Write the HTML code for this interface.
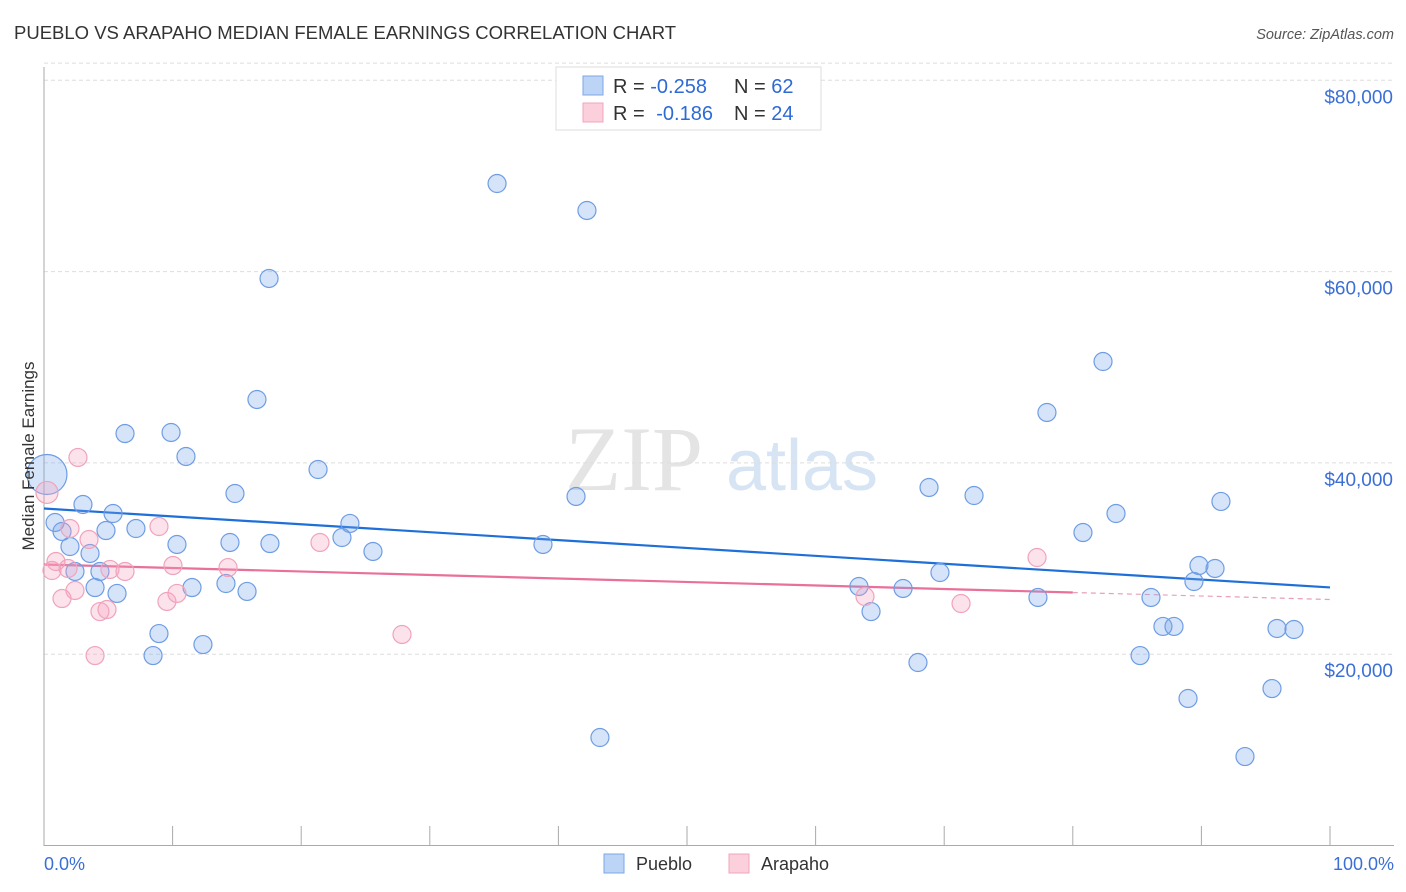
<!DOCTYPE html>
<html><head><meta charset="utf-8"><style>
body{margin:0;background:#fff;font-family:"Liberation Sans",sans-serif;}
svg{display:block}
</style></head><body>
<svg id="chart" width="1406" height="892" viewBox="0 0 1406 892" xmlns="http://www.w3.org/2000/svg">
<text x="14" y="39" font-size="18.5" fill="#333">PUEBLO VS ARAPAHO MEDIAN FEMALE EARNINGS CORRELATION CHART</text>
<text x="1394" y="39" font-size="14.5" fill="#555" text-anchor="end" font-style="italic">Source: ZipAtlas.com</text>
<g>
<text x="634" y="490" font-family="Liberation Serif,serif" font-size="92" fill="#e4e4e4" text-anchor="middle">ZIP</text>
<text x="802" y="490" font-size="72" fill="#d6e4f4" text-anchor="middle">atlas</text>
</g>
<g id="grid"></g>
<g id="axes"></g>
<g id="lines"></g>
<g id="pts"></g>
<text transform="translate(34,456) rotate(-90)" font-size="17" fill="#333" text-anchor="middle">Median Female Earnings</text>
<text x="44" y="870" font-size="18" fill="#3b6fd6">0.0%</text>
<text x="1394" y="870" font-size="18" fill="#3b6fd6" text-anchor="end">100.0%</text>
<g>
<rect x="556" y="67" width="265" height="63" fill="#fff" stroke="#ddd"/>
<rect x="583" y="76" width="20" height="19" fill="#bcd4f6" stroke="#7ea6e6"/>
<rect x="583" y="103" width="20" height="19" fill="#fbcfdc" stroke="#f1a4bb"/>
<text x="613" y="93" font-size="20" fill="#333">R = <tspan fill="#2e6ad6">-0.258</tspan><tspan x="734">N = </tspan><tspan fill="#2e6ad6">62</tspan></text>
<text x="613" y="120" font-size="20" fill="#333">R = <tspan fill="#2e6ad6" dx="6">-0.186</tspan><tspan x="734">N = </tspan><tspan fill="#2e6ad6">24</tspan></text>
</g>
<g>
<rect x="604" y="854" width="20" height="19" fill="#bcd4f6" stroke="#7ea6e6"/>
<text x="636" y="870" font-size="18" fill="#333">Pueblo</text>
<rect x="729" y="854" width="20" height="19" fill="#fbcfdc" stroke="#f1a4bb"/>
<text x="761" y="870" font-size="18" fill="#333">Arapaho</text>
</g>
</svg>
<script>
const bluePct=[0.23,0.86,1.40,2.02,2.41,3.03,3.58,3.97,4.35,4.82,5.37,5.68,6.30,7.15,8.48,8.94,9.88,10.34,11.04,11.51,12.36,14.15,14.46,14.85,15.79,16.56,17.57,17.50,21.31,23.17,23.79,25.58,35.23,38.80,41.37,42.22,43.23,63.37,64.31,66.80,67.96,68.82,69.67,72.32,77.29,77.99,80.79,82.35,83.36,85.23,86.08,87.01,87.87,88.96,89.42,89.81,91.06,91.52,93.39,95.49,95.88,97.20];
const blueVal=[38790,33770,32830,31260,28650,35650,30530,26970,28650,32930,34710,26350,43070,33140,19860,22160,43180,31470,40670,26970,21010,27390,31680,36800,26560,46630,31570,59280,39310,32200,33670,30740,69210,31470,36490,66390,11290,27080,24460,26870,19130,37430,28540,36590,25930,45270,32720,50600,34710,19860,25930,22900,22900,15370,27600,29270,28960,35970,9300,16410,22690,22580];
const pinkPct=[0.23,0.62,0.93,1.40,1.87,2.02,2.41,2.64,3.50,3.97,4.35,4.90,5.13,6.30,8.94,9.56,10.03,10.34,14.31,21.46,27.84,63.84,71.31,77.22];
const pinkVal=[36910,28750,29690,25820,28960,33140,26660,40570,31990,19860,24460,24670,28860,28650,33350,25510,29270,26350,29060,31680,22060,26030,25300,30110];
const blueTrend=[35230,26980];
const pinkTrend=[29380,25720];
const pinkTrendSolidEnd=80;
const yTicks=[20000,40000,60000,80000];
const yTickLabels=["$20,000","$40,000","$60,000","$80,000"];
const xTicks=[0,10,20,30,40,50,60,70,80,90,100];
const NS="http://www.w3.org/2000/svg";
const X=p=>44+p*12.86;
const Y=v=>845.5-v/20000*191.3;
function mk(tag,attrs,parent){const e=document.createElementNS(NS,tag);for(const k in attrs)e.setAttribute(k,attrs[k]);parent.appendChild(e);return e;}
const gridG=document.getElementById('grid'),axesG=document.getElementById('axes'),linesG=document.getElementById('lines'),ptsG=document.getElementById('pts');
yTicks.forEach((v,i)=>{
 const l=mk('line',{x1:44,x2:1394,y1:Y(v),y2:Y(v),stroke:'#ddd','stroke-dasharray':'4,3'},gridG);
 
 
 const t=mk('text',{x:1393,y:Y(v)+23,'font-size':19,fill:'#3b6fd6','text-anchor':'end'},gridG);
 t.textContent=yTickLabels[i];
 
 
});
const topGrid=mk('line',{x1:44,x2:1394,y1:Y(81800),y2:Y(81800),stroke:'#ddd','stroke-dasharray':'4,3'},gridG);


const ya=mk('line',{x1:44,x2:44,y1:67,y2:846,stroke:'#aaa'},axesG);


const xa=mk('line',{x1:44,x2:1394,y1:845.5,y2:845.5,stroke:'#aaa'},axesG);


xTicks.forEach(p=>{const t=mk('line',{x1:X(p),x2:X(p),y1:826,y2:846,stroke:'#aaa'},axesG);
 
 });
function dot(p,v,r,fill,stroke,name){const c=mk('circle',{cx:X(p),cy:Y(v),r:r,fill:fill,stroke:stroke,'stroke-width':1.2},ptsG);
 
 }
bluePct.forEach((p,i)=>dot(p,blueVal[i],i===0?20:9,'rgba(120,165,235,0.3)','#6f9de3','pueblo-point'));
pinkPct.forEach((p,i)=>dot(p,pinkVal[i],i===0?11:9,'rgba(245,160,190,0.3)','#f0a3bb','arapaho-point'));
const bl=mk('line',{x1:X(0),y1:Y(blueTrend[0]),x2:X(100),y2:Y(blueTrend[1]),stroke:'#1f6fd8','stroke-width':2.2},linesG);


const pm=pinkTrend[0]+(pinkTrend[1]-pinkTrend[0])*pinkTrendSolidEnd/100;
const pl=mk('line',{x1:X(0),y1:Y(pinkTrend[0]),x2:X(pinkTrendSolidEnd),y2:Y(pm),stroke:'#e8709a','stroke-width':2.2},linesG);


const pd=mk('line',{x1:X(pinkTrendSolidEnd),y1:Y(pm),x2:X(100),y2:Y(pinkTrend[1]),stroke:'#e8a0b8','stroke-width':1.2,'stroke-dasharray':'5,4'},linesG);


</script>
</body></html>
